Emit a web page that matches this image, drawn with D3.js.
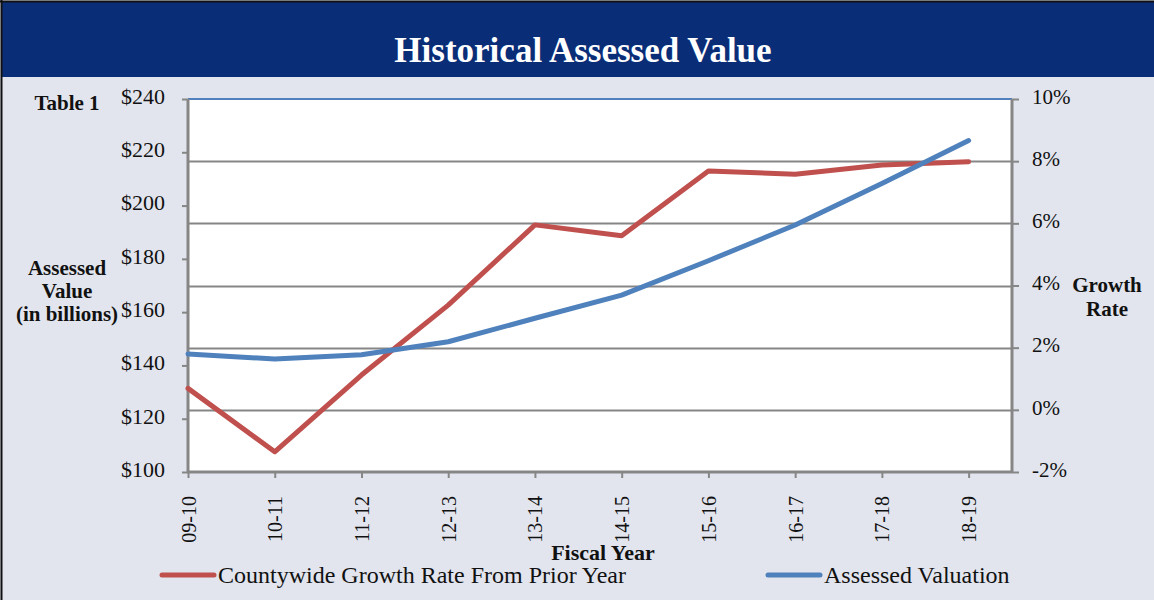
<!DOCTYPE html>
<html>
<head>
<meta charset="utf-8">
<script src="https://cdn.jsdelivr.net/npm/d3@7"></script>
<style>
  body { margin: 0; background: #e2e5ee; }
  svg { display: block; font-family: "Liberation Serif", "Times New Roman", serif; }
</style>
</head>
<body>
<svg id="chart" width="1154" height="600"></svg>
<script>
// Chart data
var fiscalYears = ["09-10", "10-11", "11-12", "12-13", "13-14", "14-15", "15-16", "16-17", "17-18", "18-19"];
var assessedValue = [144.3, 142.4, 144.0, 148.9, 157.7, 166.4, 179.3, 192.7, 208.3, 224.4]; // billions
var growthRate = [0.69, -1.35, 1.12, 3.37, 5.95, 5.6, 7.68, 7.58, 7.88, 7.98]; // percent
var valueTicks = [100, 120, 140, 160, 180, 200, 220, 240];
var rateTicks = [-2, 0, 2, 4, 6, 8, 10];

var svg = d3.select("#chart");
var plot = { left: 188, right: 1012, top: 99, bottom: 472 };
var red = "#c0504d", blue = "#4f81bd", axisGray = "#868686";

// Background + header band
svg.append("rect").attr("x", 0).attr("y", 0).attr("width", 1154).attr("height", 600).attr("fill", "#e2e5ee");
svg.append("rect").attr("x", 2).attr("y", 2).attr("width", 1152).attr("height", 75).attr("fill", "#0a2d78");
svg.append("line").attr("x1", 0).attr("x2", 1154).attr("y1", 1.5).attr("y2", 1.5).attr("stroke", "#111").attr("stroke-width", 2);
svg.append("line").attr("x1", 1.5).attr("x2", 1.5).attr("y1", 0).attr("y2", 600).attr("stroke", "#111").attr("stroke-width", 2);
svg.append("text").text("Historical Assessed Value")
    .attr("x", 583).attr("y", 62).attr("text-anchor", "middle")
    .attr("fill", "white").attr("font-weight", "bold").attr("font-size", 35);

// Scales
var step = (plot.right - plot.left) / 9.5;
var x = d3.scalePoint().domain(fiscalYears).range([plot.left, plot.left + 9 * step]);
var yLeft = d3.scaleLinear().domain([100, 240]).range([plot.bottom, plot.top]);
var yRight = d3.scaleLinear().domain([-2, 10]).range([plot.bottom, plot.top]);

// Plot area
svg.append("rect").attr("x", plot.left).attr("y", plot.top)
    .attr("width", plot.right - plot.left).attr("height", plot.bottom - plot.top).attr("fill", "white");

// Gridlines from the right axis
svg.append("g").selectAll("line").data(rateTicks.slice(1, -1)).join("line")
    .attr("x1", plot.left).attr("x2", plot.right)
    .attr("y1", function (d) { return Math.round(yRight(d)) + 0.5; })
    .attr("y2", function (d) { return Math.round(yRight(d)) + 0.5; })
    .attr("stroke", axisGray).attr("stroke-width", 2);
svg.append("line").attr("x1", plot.left).attr("x2", plot.right).attr("y1", plot.top).attr("y2", plot.top)
    .attr("stroke", blue).attr("stroke-width", 2);

// Axes
var leftAxis = svg.append("g").attr("transform", "translate(" + plot.left + ",0)")
    .call(d3.axisLeft(yLeft).tickValues(valueTicks).tickSize(6).tickPadding(17).tickFormat(function (d) { return "$" + d; }));
var rightAxis = svg.append("g").attr("transform", "translate(" + plot.right + ",0)")
    .call(d3.axisRight(yRight).tickValues(rateTicks).tickSize(7).tickPadding(13).tickFormat(function (d) { return d + "%"; }));
var bottomAxis = svg.append("g").attr("transform", "translate(0," + plot.bottom + ")")
    .call(d3.axisBottom(x).tickSize(6).tickSizeOuter(0));

[leftAxis, rightAxis, bottomAxis].forEach(function (g) {
    g.select(".domain").attr("stroke", axisGray).attr("stroke-width", 3);
    g.selectAll(".tick line").attr("stroke", axisGray).attr("stroke-width", 2);
    g.selectAll("text").attr("font-family", "Liberation Serif").attr("font-size", 21).attr("fill", "#111");
});
leftAxis.selectAll("text").attr("font-size", 22);
bottomAxis.selectAll("text").attr("font-size", 20);
leftAxis.select(".domain").attr("d", "M0," + plot.top + "V" + plot.bottom);
rightAxis.select(".domain").attr("d", "M0," + plot.top + "V" + plot.bottom);
bottomAxis.select(".domain").attr("d", "M" + plot.left + ",0H" + plot.right);
leftAxis.selectAll(".tick text").attr("dy", "0.2em");
rightAxis.selectAll(".tick text").attr("dy", "0.2em");
bottomAxis.selectAll(".tick text")
    .attr("transform", "rotate(-90)").attr("text-anchor", "end")
    .attr("x", -24).attr("y", 0).attr("dy", "0.35em");

// Lines
var rateLine = d3.line().x(function (d, i) { return x(fiscalYears[i]); }).y(function (d) { return yRight(d); });
var valueLine = d3.line().x(function (d, i) { return x(fiscalYears[i]); }).y(function (d) { return yLeft(d); });
svg.append("path").datum(growthRate).attr("d", rateLine)
    .attr("fill", "none").attr("stroke", red).attr("stroke-width", 5).attr("stroke-linejoin", "round").attr("stroke-linecap", "round");
svg.append("path").datum(assessedValue).attr("d", valueLine)
    .attr("fill", "none").attr("stroke", blue).attr("stroke-width", 5).attr("stroke-linejoin", "round").attr("stroke-linecap", "round");

// Axis titles
function boldLines(lines, cx, y0, lh, size) {
    var t = svg.append("text").attr("text-anchor", "middle").attr("font-weight", "bold").attr("font-size", size).attr("fill", "#111");
    lines.forEach(function (s, i) {
        t.append("tspan").attr("x", cx).attr("y", y0 + i * lh).text(s);
    });
}
boldLines(["Table 1"], 67, 110, 23, 21);
boldLines(["Assessed", "Value", "(in billions)"], 67, 275, 23, 21);
boldLines(["Growth", "Rate"], 1107, 292, 24, 21);
boldLines(["Fiscal Year"], 603, 560, 23, 22);

// Legend
var legend = [
    { label: "Countywide Growth Rate From Prior Year", color: red, x: 162 },
    { label: "Assessed Valuation", color: blue, x: 768 }
];
var lg = svg.append("g").selectAll("g").data(legend).join("g")
    .attr("transform", function (d) { return "translate(" + d.x + ",575)"; });
lg.append("line").attr("x1", 0).attr("x2", 52).attr("y1", 0).attr("y2", 0)
    .attr("stroke", function (d) { return d.color; }).attr("stroke-width", 5).attr("stroke-linecap", "round");
lg.append("text").text(function (d) { return d.label; })
    .attr("x", 56).attr("y", 8).attr("font-size", 24).attr("fill", "#111");
</script>
</body>
</html>
